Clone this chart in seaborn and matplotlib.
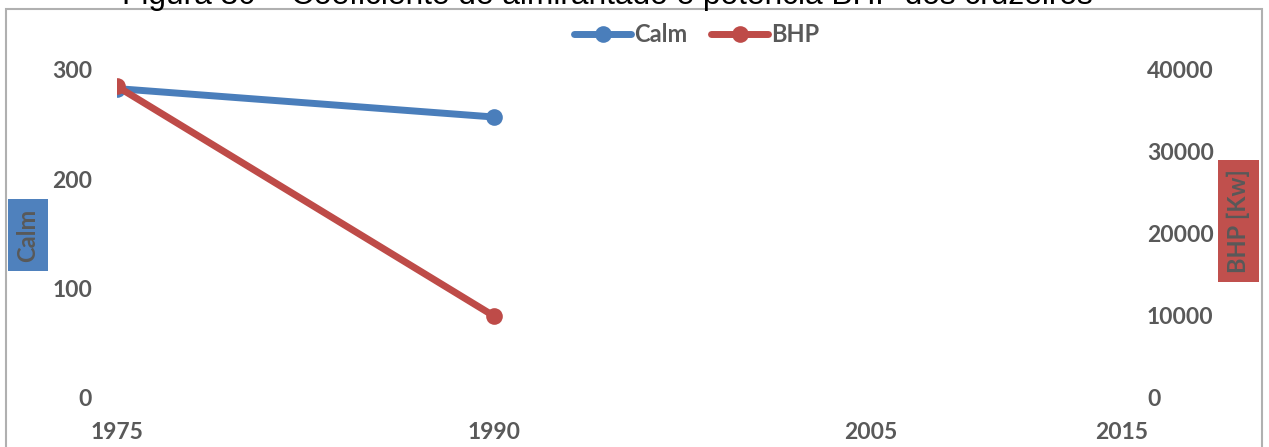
import matplotlib
matplotlib.use("Agg")
import matplotlib.pyplot as plt
from matplotlib.patches import Rectangle
from matplotlib.lines import Line2D
import seaborn as sns
import pandas as pd

# Series values
years = [1975, 1990]
calm = [283, 257]
bhp = [38000, 10000]

# Axis ticks
x_ticks = [1975, 1990, 2005, 2015]
calm_ticks = [0, 100, 200, 300]
bhp_ticks = [0, 10000, 20000, 30000, 40000]

title = "Figura 30 – Coeficiente de almirantado e potência BHP dos cruzeiros"

BLUE = "#4A7EBB"
RED = "#BE4B48"
TXT = "#595959"
LW = 5.0
MS = 12

sns.set_style("white")
plt.rcParams["font.family"] = ["Lato", "DejaVu Sans"]

W, H = 1269, 447
fig = plt.figure(figsize=(W / 100, H / 100), dpi=100)
ax = fig.add_axes([117 / W, 1 - 398 / H, (1122 - 117) / W, (398 - 70) / H])
ax2 = ax.twinx()

df = pd.DataFrame({"year": years, "Calm": calm, "BHP": bhp})

sns.lineplot(data=df, x="year", y="Calm", ax=ax, color=BLUE, lw=LW,
             marker="o", markersize=MS, markeredgewidth=0, solid_capstyle="round")
sns.lineplot(data=df, x="year", y="BHP", ax=ax2, color=RED, lw=LW,
             marker="o", markersize=MS, markeredgewidth=0, solid_capstyle="round")

ax.set_xlim(1975, 2015)
ax.set_ylim(0, 300)
ax2.set_ylim(0, 40000)
ax.set_xticks(x_ticks)
ax.set_yticks(calm_ticks)
ax2.set_yticks(bhp_ticks)
ax.set_xlabel("")
ax.set_ylabel("")
ax2.set_ylabel("")

for a in (ax, ax2):
    for s in a.spines.values():
        s.set_visible(False)
    a.grid(False)
    a.set_facecolor("none")

ax.tick_params(axis="x", length=0, pad=17, labelsize=16.5, labelcolor=TXT)
ax.tick_params(axis="y", length=0, pad=18, labelsize=16.5, labelcolor=TXT)
ax2.tick_params(axis="y", length=0, pad=18, labelsize=16.5, labelcolor=TXT)
for lab in ax.get_xticklabels() + ax.get_yticklabels() + ax2.get_yticklabels():
    lab.set_fontweight("bold")
for lab in ax2.get_yticklabels():
    lab.set_horizontalalignment("left")

# Axis titles in coloured boxes
fig.text(28 / W, 1 - 235 / H, "Calm", rotation=90, ha="center", va="center",
         fontsize=17, fontweight="bold", color=TXT,
         bbox=dict(boxstyle="square,pad=0.38", fc="#4F81BD", ec="none"))
fig.text(1238.5 / W, 1 - 221 / H, "BHP [Kw]", rotation=90, ha="center", va="center",
         fontsize=17, fontweight="bold", color=TXT,
         bbox=dict(boxstyle="square,pad=0.38", fc="#C0504D", ec="none"))

# Legend
handles = [Line2D([], [], color=BLUE, lw=LW, marker="o", markersize=MS, markeredgewidth=0),
           Line2D([], [], color=RED, lw=LW, marker="o", markersize=MS, markeredgewidth=0)]
leg = fig.legend(handles, ["Calm", "BHP"], loc="center", bbox_to_anchor=(697 / W, 1 - 35 / H),
                 ncol=2, frameon=False, handlelength=2.4, handletextpad=0.15,
                 columnspacing=1.0, prop={"weight": "bold", "size": 17})
for t in leg.get_texts():
    t.set_color(TXT)

# Outer chart frame
fig.patches.append(Rectangle((6 / W, -0.1), (1262 - 6) / W, (H - 9) / H + 0.1,
                             transform=fig.transFigure, fill=False,
                             edgecolor="#B0B0B0", lw=1.5))

# Caption above the chart
fig.text(607 / W, 1 - 4 / H, title, ha="center", va="baseline", fontsize=22.8,
         family=["Liberation Sans", "DejaVu Sans"], color="black")

fig.savefig("out.png", dpi=100)
